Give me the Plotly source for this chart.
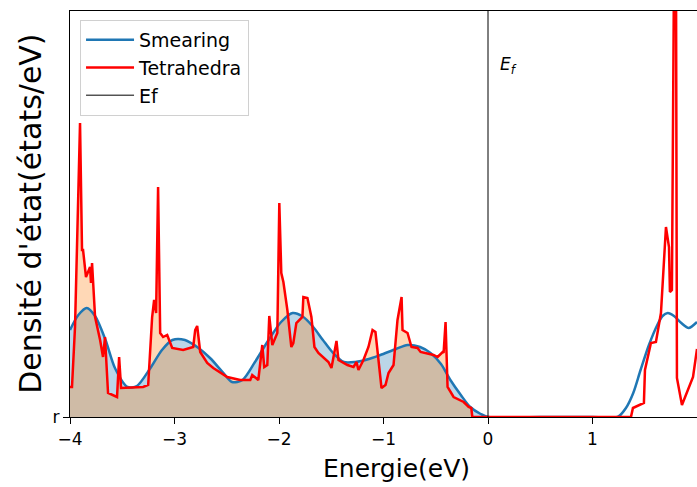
import numpy as np
import plotly.graph_objects as go

# Smearing DOS (smooth, Gaussian broadening)
smear_e = [-4.00, -3.92, -3.84, -3.76, -3.66, -3.57, -3.45, -3.36, -3.23, -3.12,
           -3.02, -2.90, -2.77, -2.66, -2.54, -2.45, -2.35, -2.23, -2.10, -1.98,
           -1.87, -1.78, -1.68, -1.58, -1.49, -1.38, -1.27, -1.14, -1.03, -0.88,
           -0.77, -0.65, -0.55, -0.45, -0.36, -0.26, -0.17, -0.07, 0.00, 0.50,
           1.00, 1.24, 1.32, 1.39, 1.46, 1.54, 1.62, 1.67, 1.72, 1.78,
           1.85, 1.92, 2.00]
smear_dos = [0.87, 1.02, 1.09, 1.01, 0.77, 0.49, 0.30, 0.31, 0.49, 0.67,
             0.77, 0.77, 0.69, 0.59, 0.45, 0.35, 0.37, 0.55, 0.77, 0.95,
             1.04, 1.01, 0.91, 0.77, 0.65, 0.55, 0.55, 0.58, 0.62, 0.68,
             0.72, 0.70, 0.64, 0.53, 0.37, 0.22, 0.10, 0.03, 0.00, 0.00,
             0.00, 0.00, 0.09, 0.24, 0.47, 0.72, 0.92, 1.01, 1.04, 1.01,
             0.94, 0.89, 0.95]

# Tetrahedron-method DOS (sharp features)
tetra_e = [-4.000, -3.981, -3.952, -3.904, -3.885, -3.875, -3.847, -3.808, -3.799, -3.789,
           -3.760, -3.712, -3.684, -3.665, -3.636, -3.550, -3.530, -3.511, -3.300, -3.252,
           -3.214, -3.195, -3.176, -3.157, -3.137, -3.109, -3.070, -3.022, -2.917, -2.821,
           -2.802, -2.783, -2.754, -2.687, -2.629, -2.495, -2.371, -2.275, -2.256, -2.198,
           -2.160, -2.141, -2.112, -2.093, -2.064, -2.016, -1.997, -1.978, -1.958, -1.920,
           -1.882, -1.863, -1.834, -1.776, -1.767, -1.728, -1.690, -1.661, -1.623, -1.527,
           -1.498, -1.450, -1.431, -1.345, -1.287, -1.258, -1.240, -1.192, -1.144, -1.105,
           -1.077, -1.019, -0.981, -0.952, -0.904, -0.866, -0.827, -0.818, -0.770, -0.732,
           -0.674, -0.645, -0.521, -0.482, -0.434, -0.425, -0.406, -0.387, -0.329, -0.233,
           -0.185, -0.160, -0.150, 0.000, 1.368, 1.387, 1.492, 1.502, 1.559, 1.607,
           1.655, 1.703, 1.732, 1.741, 1.760, 1.780, 1.799, 1.808, 1.856, 1.962,
           2.000]
tetra_dos = [0.30, 0.30, 0.90, 2.94, 1.67, 1.67, 1.40, 1.50, 1.34, 1.54,
             1.00, 0.77, 0.60, 0.80, 0.24, 0.20, 0.60, 0.29, 0.30, 0.32,
             1.00, 1.17, 1.04, 2.30, 0.84, 0.80, 0.82, 0.69, 0.67, 0.70,
             0.87, 0.91, 0.65, 0.54, 0.49, 0.40, 0.37, 0.37, 0.42, 0.37,
             0.72, 0.50, 0.52, 1.01, 0.72, 0.84, 2.14, 1.44, 1.35, 1.07,
             0.70, 0.74, 0.94, 1.00, 1.20, 1.19, 1.00, 0.70, 0.64, 0.55,
             0.49, 0.76, 0.57, 0.52, 0.50, 0.55, 0.47, 0.57, 0.70, 0.87,
             0.85, 0.29, 0.32, 0.44, 0.52, 0.97, 1.20, 0.87, 0.84, 0.70,
             0.69, 0.65, 0.62, 0.60, 0.65, 0.64, 0.95, 0.30, 0.20, 0.15,
             0.10, 0.09, 0.00, 0.00, 0.00, 0.09, 0.14, 0.47, 0.74, 0.75,
             1.04, 1.90, 1.70, 1.25, 1.27, 4.47, 4.47, 0.39, 0.12, 0.40,
             0.68]

fermi = 0.0
x_range = [-4, 2]
y_range = [0, 4.06]
x_ticks = [-4, -3, -2, -1, 0, 1, 2]

FONT = "DejaVu Sans"

se = np.array(smear_e); sd = np.array(smear_dos)
te = np.array(tetra_e); td = np.array(tetra_dos)
occ_s = se <= fermi
occ_t = te <= fermi

fig = go.Figure()

# shaded occupied states
fig.add_trace(go.Scatter(x=se[occ_s], y=sd[occ_s], mode="lines",
                         line=dict(width=0, shape="spline", smoothing=0.8),
                         fill="tozeroy", fillcolor="rgba(31,119,180,0.3)",
                         showlegend=False, hoverinfo="skip"))
fig.add_trace(go.Scatter(x=te[occ_t], y=td[occ_t], mode="lines",
                         line=dict(width=0),
                         fill="tozeroy", fillcolor="rgba(255,127,14,0.3)",
                         showlegend=False, hoverinfo="skip"))

fig.add_trace(go.Scatter(x=se, y=sd, mode="lines", name="Smearing",
                         line=dict(color="#1f77b4", width=2.5, shape="spline", smoothing=0.8)))
fig.add_trace(go.Scatter(x=te, y=td, mode="lines", name="Tetrahedra",
                         line=dict(color="#ff0000", width=2.5)))
fig.add_trace(go.Scatter(x=[fermi, fermi], y=y_range, mode="lines", name="Ef",
                         line=dict(color="black", width=1)))

fig.add_annotation(x=fermi + 0.1, y=3.52, xref="x", yref="y",
                   text="<i>E<sub>f</sub></i>", showarrow=False, xanchor="left",
                   font=dict(family=FONT, size=17, color="black"))

fig.add_annotation(x=0.5215, y=-0.126, xref="paper", yref="paper",
                   text="Energie(eV)", showarrow=False, xanchor="center", yanchor="middle",
                   font=dict(family=FONT, size=25, color="black"))
fig.add_annotation(x=-0.064, y=0.5, xref="paper", yref="paper",
                   text="Densité d'état(états/eV)", showarrow=False, textangle=-90,
                   xanchor="center", yanchor="middle",
                   font=dict(family=FONT, size=30, color="black"))

fig.update_xaxes(range=x_range, tickvals=x_ticks,
                 ticktext=[("\u2212" + str(-v)) if v < 0 else str(v) for v in x_ticks],
                 ticks="outside", ticklen=6, tickcolor="black",
                 showline=True, linecolor="black", linewidth=1.2, mirror=True,
                 showgrid=False, zeroline=False,
                 tickfont=dict(family=FONT, size=17, color="black"))
fig.update_yaxes(range=y_range, tickvals=[0], ticktext=["r"],
                 ticks="outside", ticklen=6, tickcolor="black",
                 showline=True, linecolor="black", linewidth=1.2, mirror=True,
                 showgrid=False, zeroline=False,
                 tickfont=dict(family=FONT, size=17, color="black"))

fig.update_layout(
    width=697, height=487,
    margin=dict(l=70, r=0, t=11, b=70),
    plot_bgcolor="white", paper_bgcolor="white",
    legend=dict(x=0.016, y=0.978, xanchor="left", yanchor="top",
                bgcolor="white", bordercolor="#d0d0d0", borderwidth=1,
                itemwidth=48,
                font=dict(family=FONT, size=19, color="black"),
                tracegroupgap=0),
)

fig.write_html("out.html")
